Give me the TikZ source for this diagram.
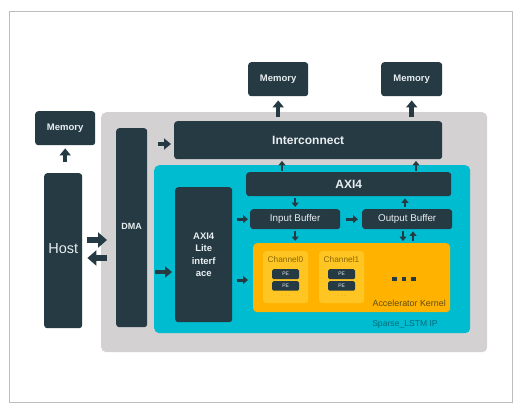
\documentclass[tikz,border=0pt]{standalone}
\usepackage{fontspec}
\setmainfont{Liberation Sans}
\usetikzlibrary{arrows.meta}
\definecolor{dk}{HTML}{263A43}
\definecolor{txt}{HTML}{E8EEF0}
\definecolor{panelgray}{HTML}{D4D1D2}
\definecolor{teal}{HTML}{00BCD0}
\definecolor{kern}{HTML}{FFB300}
\definecolor{chan}{HTML}{FFC523}
\definecolor{chantxt}{HTML}{8A6600}
\definecolor{kerntxt}{HTML}{5E4D14}
\definecolor{iptxt}{HTML}{006C7A}
\definecolor{frame}{HTML}{BDBDBD}
\begin{document}
\begin{tikzpicture}[x=1pt,y=-1pt,
  box/.style={fill=dk, rounded corners=3pt, text=txt, inner sep=0pt, anchor=north west,
    font=\bfseries\fontsize{9.5}{11}\selectfont},
  region/.style={rounded corners=5pt, inner sep=0pt, anchor=north west},
  bigarr/.style={draw=dk, line width=6pt, -{Triangle[length=9pt,width=15pt]}},
  midarr/.style={draw=dk, line width=4.5pt, -{Triangle[length=7pt,width=11pt]}},
  smallarr/.style={draw=dk, line width=3pt, -{Triangle[length=5pt,width=8pt]}},
  tinyarr/.style={draw=dk, line width=2.4pt, -{Triangle[length=4.5pt,width=7pt]}}]
\useasboundingbox (0,0) rectangle (520,410);
\fill[white] (0,0) rectangle (520,410);
\draw[frame, line width=0.8pt] (9,11) rectangle (512,402);

% regions
\node[region, fill=panelgray, minimum width=386pt, minimum height=240pt] (panel) at (101,112) {};
\node[region, fill=teal, minimum width=316pt, minimum height=168pt] (ip) at (154,165) {};
\node[region, fill=kern, rounded corners=4pt, minimum width=197pt, minimum height=69pt] (kernel) at (253,243) {};
\node[region, fill=chan, rounded corners=3pt, minimum width=45pt, minimum height=52pt] (ch0) at (263,251) {};
\node[region, fill=chan, rounded corners=3pt, minimum width=45pt, minimum height=52pt] (ch1) at (319,251) {};

% dark boxes
\node[box, minimum width=60pt, minimum height=34pt] (memL) at (35,111) {Memory};
\node[box, minimum width=60pt, minimum height=34pt] (memM) at (248,62) {Memory};
\node[box, minimum width=61pt, minimum height=34pt] (memR) at (381,62) {Memory};
\node[box, minimum width=38pt, minimum height=155pt, font=\fontsize{14.5}{16}\selectfont] (host) at (44,173) {\raisebox{5pt}{Host}};
\node[box, minimum width=31pt, minimum height=199pt, font=\bfseries\fontsize{9}{10}\selectfont] (dma) at (116,128) {\raisebox{3pt}{DMA}};
\node[box, minimum width=268pt, minimum height=38pt, font=\bfseries\fontsize{12}{14}\selectfont] (inter) at (174,121) {Interconnect};
\node[box, minimum width=205pt, minimum height=24pt, font=\bfseries\fontsize{12}{14}\selectfont] (axi) at (246,172) {AXI4};
\node[box, minimum width=57pt, minimum height=135pt, align=center, font=\bfseries\fontsize{9.5}{12.5}\selectfont] (lite) at (175,187) {AXI4\\Lite\\interf\\ace};
\node[box, minimum width=90pt, minimum height=20pt, font=\fontsize{9.8}{11}\selectfont] (inbuf) at (250,209) {Input Buffer};
\node[box, minimum width=90pt, minimum height=20pt, font=\fontsize{9.8}{11}\selectfont] (outbuf) at (362,209) {Output Buffer};

% PE boxes
\node[box, rounded corners=1.5pt, minimum width=27pt, minimum height=10pt, font=\fontsize{5}{6}\selectfont] (pe00) at (272,269) {PE};
\node[box, rounded corners=1.5pt, minimum width=27pt, minimum height=9.5pt, font=\fontsize{5}{6}\selectfont] (pe01) at (272,281) {PE};
\node[box, rounded corners=1.5pt, minimum width=27pt, minimum height=10pt, font=\fontsize{5}{6}\selectfont] (pe10) at (328,269) {PE};
\node[box, rounded corners=1.5pt, minimum width=27pt, minimum height=9.5pt, font=\fontsize{5}{6}\selectfont] (pe11) at (328,281) {PE};

% labels
\node[text=chantxt, font=\fontsize{8.3}{9}\selectfont, inner sep=0pt] (ch0lab) at (285.5,260) {Channel0};
\node[text=chantxt, font=\fontsize{8.3}{9}\selectfont, inner sep=0pt] (ch1lab) at (341.5,260) {Channel1};
\node[text=chantxt, font=\fontsize{5}{6}\selectfont, inner sep=0pt] (ch0dots) at (285.5,296) {$\cdots$};
\node[text=chantxt, font=\fontsize{5}{6}\selectfont, inner sep=0pt] (ch1dots) at (341.5,296) {$\cdots$};
\foreach \xx in {394.5,404,413.5}{
  \fill[dk] (\xx-2.2,276.8) rectangle (\xx+2.2,281.2);
}
\node[text=kerntxt, font=\fontsize{8.9}{10}\selectfont, inner sep=0pt, anchor=east] (klab) at (446,303) {Accelerator Kernel};
\node[text=iptxt, font=\fontsize{8.6}{10}\selectfont, inner sep=0pt] (iplab) at (405,324) {Sparse\_LSTM IP};

% helper coordinates
\coordinate (yh1) at (0,240);
\coordinate (yh2) at (0,258);
\coordinate (ydi) at (0,144);
\coordinate (ydl) at (0,272);
\coordinate (ylk) at (0,280);
\coordinate (xa1) at (282,0);
\coordinate (xa2) at (416,0);
\coordinate (xo1) at (403,0);
\coordinate (xo2) at (413,0);
\coordinate (xo3) at (405,0);

% big arrows
\draw[midarr, shorten <=11pt, shorten >=3pt] (memL.south |- host.north) -- (memL.south);
\draw[midarr, shorten <=4pt, shorten >=4pt] (memM.south |- inter.north) -- (memM.south);
\draw[midarr, shorten <=4pt, shorten >=4pt] (memR.south |- inter.north) -- (memR.south);
\draw[bigarr, shorten <=5pt, shorten >=9pt] (host.east |- yh1) -- (dma.west |- yh1);
\draw[bigarr, shorten <=9pt, shorten >=5pt] (dma.west |- yh2) -- (host.east |- yh2);
\draw[midarr, shorten <=11pt, shorten >=3pt] (dma.east |- ydi) -- (inter.west |- ydi);
\draw[midarr, shorten <=8pt, shorten >=3pt] (dma.east |- ydl) -- (lite.west |- ydl);

% small arrows
\draw[smallarr, shorten <=5pt, shorten >=2pt] (lite.east |- inbuf.west) -- (inbuf.west);
\draw[smallarr, shorten <=5pt, shorten >=5pt] (lite.east |- ylk) -- (kernel.west |- ylk);
\draw[smallarr, shorten <=6pt, shorten >=4pt] (inbuf.east) -- (outbuf.west);
\draw[tinyarr, shorten <=1.5pt, shorten >=1.5pt] (xa1 |- axi.north) -- (xa1 |- inter.south);
\draw[tinyarr, shorten <=1.5pt, shorten >=1.5pt] (xa2 |- axi.north) -- (xa2 |- inter.south);
\draw[tinyarr, shorten <=2pt, shorten >=2pt] (axi.south -| inbuf.north) -- (inbuf.north);
\draw[tinyarr, shorten <=2pt, shorten >=2pt] (xo3 |- outbuf.north) -- (xo3 |- axi.south);
\draw[tinyarr, shorten <=2pt, shorten >=2pt] (inbuf.south) -- (inbuf.south |- kernel.north);
\draw[tinyarr, shorten <=2pt, shorten >=2pt] (xo1 |- outbuf.south) -- (xo1 |- kernel.north);
\draw[tinyarr, shorten <=2pt, shorten >=2pt] (xo2 |- kernel.north) -- (xo2 |- outbuf.south);
\end{tikzpicture}
\end{document}
